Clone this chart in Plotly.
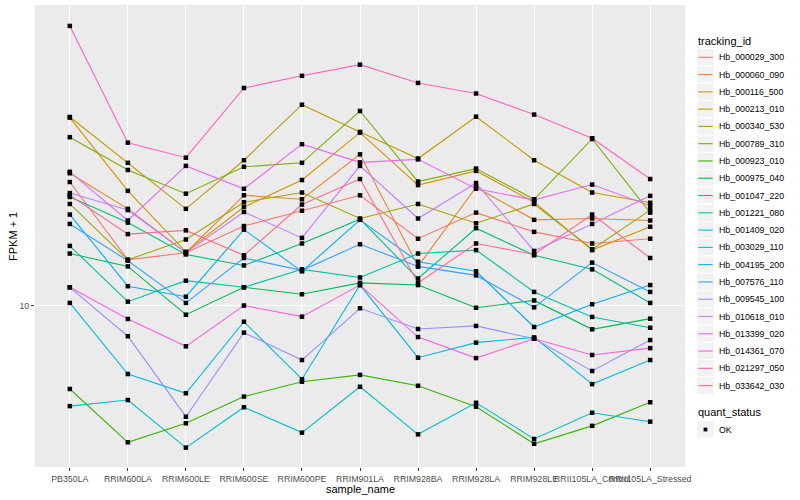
import plotly.graph_objects as go

categories = ["PB350LA", "RRIM600LA", "RRIM600LE", "RRIM600SE", "RRIM600PE", "RRIM901LA",
              "RRIM928BA", "RRIM928LA", "RRIM928LE", "RRII105LA_Control", "RRII105LA_Stressed"]

tracking_ids = ["Hb_000029_300", "Hb_000060_090", "Hb_000116_500", "Hb_000213_010", "Hb_000340_530",
                "Hb_000789_310", "Hb_000923_010", "Hb_000975_040", "Hb_001047_220", "Hb_001221_080",
                "Hb_001409_020", "Hb_003029_110", "Hb_004195_200", "Hb_007576_110", "Hb_009545_100",
                "Hb_010618_010", "Hb_013399_020", "Hb_014361_070", "Hb_021297_050", "Hb_033642_030"]

hb_000029_300 = [25.8, 14.2, 15.0, 18.4, 20.7, 23.3, 16.7, 20.4, 17.6, 16.1, 16.7]
hb_000060_090 = [27.6, 21.0, 15.0, 23.3, 22.6, 31.9, 13.5, 24.8, 19.3, 19.5, 19.2]
hb_000116_500 = [42.3, 24.1, 15.1, 21.3, 26.2, 37.7, 25.2, 28.1, 22.1, 15.3, 18.3]
hb_000213_010 = [42.5, 29.9, 21.0, 30.5, 46.7, 37.9, 30.9, 42.6, 30.5, 23.8, 22.0]
hb_000340_530 = [21.8, 14.2, 16.6, 22.1, 23.8, 19.5, 21.8, 18.8, 21.8, 15.4, 20.8]
hb_000789_310 = [36.4, 28.3, 23.6, 29.0, 29.9, 44.5, 25.9, 28.6, 22.6, 35.9, 20.4]
hb_000923_010 = [5.27, 3.50, 4.05, 4.97, 5.57, 5.87, 5.40, 4.60, 3.46, 3.97, 4.76]
hb_000975_040 = [14.9, 13.5, 9.32, 11.5, 10.9, 11.9, 11.7, 9.83, 10.4, 8.33, 9.04]
hb_001047_220 = [23.0, 18.9, 14.8, 13.6, 16.1, 19.4, 12.3, 18.1, 14.7, 13.2, 10.2]
hb_001221_080 = [15.8, 10.3, 12.1, 11.5, 13.2, 12.4, 14.9, 15.3, 11.1, 9.16, 8.43]
hb_001409_020 = [4.62, 4.84, 3.36, 4.58, 3.77, 5.36, 3.72, 4.74, 3.59, 4.39, 4.10]
hb_003029_110 = [10.2, 5.91, 5.10, 8.83, 5.68, 11.7, 6.70, 7.52, 7.83, 5.47, 6.58]
hb_004195_200 = [20.1, 11.6, 10.7, 17.9, 13.0, 19.3, 14.0, 13.0, 8.48, 10.1, 11.7]
hb_007576_110 = [18.7, 14.1, 10.2, 14.4, 13.1, 16.0, 13.5, 12.6, 9.86, 13.9, 11.1]
hb_009545_100 = [11.5, 7.90, 4.26, 8.12, 6.58, 9.79, 8.35, 8.55, 7.75, 6.05, 7.67]
hb_010618_010 = [23.7, 20.8, 15.0, 20.5, 16.8, 29.2, 19.5, 25.6, 15.2, 18.7, 23.2]
hb_013399_020 = [27.9, 19.2, 29.2, 24.5, 34.5, 30.0, 30.7, 24.5, 22.5, 25.3, 21.5]
hb_014361_070 = [11.5, 9.02, 7.31, 10.0, 9.18, 11.7, 7.85, 6.68, 7.75, 6.84, 7.21]
hb_021297_050 = [85.5, 34.9, 31.1, 53.1, 58.3, 63.5, 55.2, 50.9, 43.3, 36.1, 26.4]
hb_033642_030 = [23.3, 17.3, 17.8, 14.7, 21.7, 26.4, 11.9, 16.1, 14.8, 20.1, 14.4]

series_values = [hb_000029_300, hb_000060_090, hb_000116_500, hb_000213_010, hb_000340_530,
                 hb_000789_310, hb_000923_010, hb_000975_040, hb_001047_220, hb_001221_080,
                 hb_001409_020, hb_003029_110, hb_004195_200, hb_007576_110, hb_009545_100,
                 hb_010618_010, hb_013399_020, hb_014361_070, hb_021297_050, hb_033642_030]

colors = ["#F8766D", "#EA8331", "#D89000", "#C09B00", "#A3A500", "#7CAE00", "#39B600", "#00BB4E",
          "#00BF7D", "#00C1A3", "#00BFC4", "#00BAE0", "#00B0F6", "#35A2FF", "#9590FF", "#C77CFF",
          "#E76BF3", "#FA62DB", "#FF62BC", "#FF6C91"]

y_ticks = [10]
y_ticktext = ["10"]
quant_status = ["OK"]

FONT = "Liberation Sans, Arial, Helvetica, sans-serif"

fig = go.Figure()
for name, vals, col in zip(tracking_ids, series_values, colors):
    fig.add_trace(go.Scatter(x=categories, y=vals, mode="lines", name=name,
                             line=dict(color=col, width=1.1), showlegend=False, hoverinfo="skip"))
for name, vals in zip(tracking_ids, series_values):
    fig.add_trace(go.Scatter(x=categories, y=vals, mode="markers", name=name,
                             marker=dict(color="black", size=4.5, symbol="square"),
                             showlegend=False, hoverinfo="skip"))

# panel geometry in pixels
PL, PR, PT, PB = 35, 684.6, 5, 467
W, H = 800, 500


def px(x):
    return (x - PL) / (PR - PL)


def py(y):
    return (PB - y) / (PB - PT)


shapes = []
annotations = []

# legend: tracking_id
annotations.append(dict(x=px(696), y=py(40.7), xref="paper", yref="paper", text="tracking_id",
                        showarrow=False, xanchor="left", yanchor="middle",
                        font=dict(family=FONT, size=11, color="black")))
step = 17.28
for i, (name, col) in enumerate(zip(tracking_ids, colors)):
    cy = 57.3 + step * i
    shapes.append(dict(type="rect", xref="paper", yref="paper", x0=px(696.4), x1=px(713.7),
                       y0=py(cy - step / 2), y1=py(cy + step / 2), fillcolor="#F2F2F2",
                       line=dict(color="white", width=1), layer="above"))
    shapes.append(dict(type="line", xref="paper", yref="paper", x0=px(697.8), x1=px(712.3),
                       y0=py(cy), y1=py(cy), line=dict(color=col, width=1.1), layer="above"))
    annotations.append(dict(x=px(716.5), y=py(cy), xref="paper", yref="paper", text=name,
                            showarrow=False, xanchor="left", yanchor="middle",
                            font=dict(family=FONT, size=8.8, color="black")))

# legend: quant_status
annotations.append(dict(x=px(696), y=py(412.3), xref="paper", yref="paper", text="quant_status",
                        showarrow=False, xanchor="left", yanchor="middle",
                        font=dict(family=FONT, size=11, color="black")))
for j, q in enumerate(quant_status):
    cy = 429.5 + step * j
    shapes.append(dict(type="rect", xref="paper", yref="paper", x0=px(696.4), x1=px(713.7),
                       y0=py(cy - step / 2), y1=py(cy + step / 2), fillcolor="#F2F2F2",
                       line=dict(color="white", width=1), layer="above"))
    shapes.append(dict(type="rect", xref="paper", yref="paper", x0=px(703.2), x1=px(706.9),
                       y0=py(cy - 1.9), y1=py(cy + 1.9), fillcolor="black",
                       line=dict(color="black", width=0), layer="above"))
    annotations.append(dict(x=px(716.5), y=py(cy), xref="paper", yref="paper", text=q,
                            showarrow=False, xanchor="left", yanchor="middle",
                            font=dict(family=FONT, size=8.8, color="black")))

# axis titles
annotations.append(dict(x=0.5, y=py(489), xref="paper", yref="paper", text="sample_name",
                        showarrow=False, xanchor="center", yanchor="middle",
                        font=dict(family=FONT, size=11, color="black")))
annotations.append(dict(x=px(13), y=0.5, xref="paper", yref="paper", text="FPKM + 1",
                        showarrow=False, xanchor="center", yanchor="middle", textangle=-90,
                        font=dict(family=FONT, size=11, color="black")))

fig.update_layout(
    width=W, height=H, autosize=False,
    margin=dict(l=PL, r=W - PR, t=PT, b=H - PB, pad=0),
    paper_bgcolor="white", plot_bgcolor="#EBEBEB",
    showlegend=False,
    shapes=shapes, annotations=annotations,
    font=dict(family=FONT, size=8.8, color="#4D4D4D"),
)
fig.update_xaxes(
    type="category", categoryorder="array", categoryarray=categories,
    range=[-0.6, len(categories) - 0.4],
    tickvals=categories, ticktext=categories, tickangle=0,
    showgrid=True, gridcolor="white", gridwidth=1.1,
    ticks="outside", ticklen=3, tickwidth=1, tickcolor="#333333",
    tickfont=dict(family=FONT, size=8.8, color="#4D4D4D"),
    showline=False, zeroline=False, fixedrange=True,
)
fig.update_yaxes(
    type="log", range=[0.4617, 2.0017],
    tickvals=y_ticks, ticktext=y_ticktext,
    showgrid=True, gridcolor="white", gridwidth=1.1,
    ticks="outside", ticklen=3, tickwidth=1, tickcolor="#333333",
    tickfont=dict(family=FONT, size=8.8, color="#4D4D4D"),
    showline=False, zeroline=False, fixedrange=True,
    minor=dict(showgrid=False),
)

fig.write_html("out.html", config={"displayModeBar": False},
               post_script="document.body.style.margin='0';document.body.style.padding='0';")
